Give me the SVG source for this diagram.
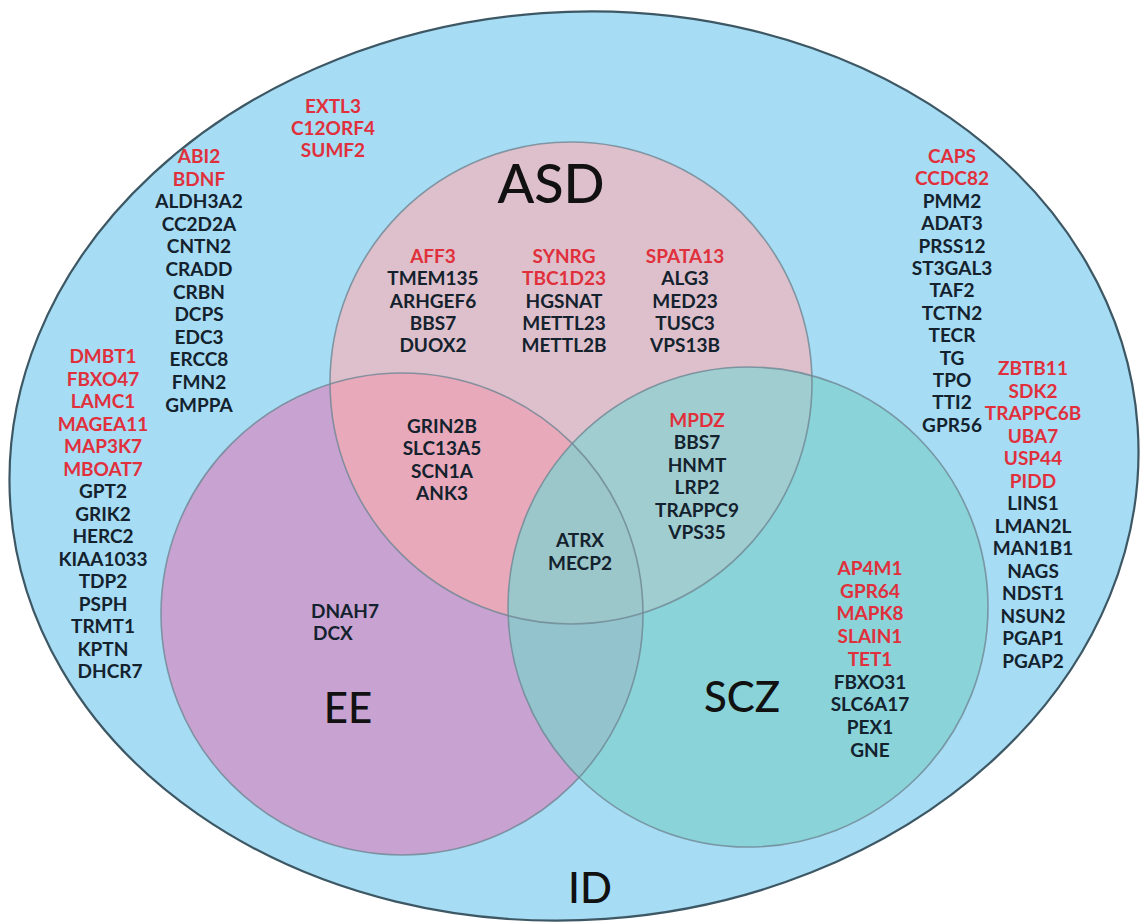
<svg xmlns="http://www.w3.org/2000/svg" width="1143" height="923" viewBox="0 0 1143 923">
<style>
.g{font-family:Lato,"Open Sans","Liberation Sans",sans-serif;font-weight:700;font-size:19px;text-anchor:middle;fill:#14222e}
.r{fill:#e0303c}
.t{font-family:Lato,"Open Sans","Liberation Sans",sans-serif;font-weight:500;text-anchor:middle;fill:#111}
.ring{fill:none;stroke:#6f8794;stroke-width:1.6;stroke-opacity:0.8}
</style>
<defs>
<clipPath id="cASD"><circle cx="571" cy="383" r="241"/></clipPath>
<clipPath id="cEE"><circle cx="402" cy="614" r="241"/></clipPath>
<clipPath id="cEEASD" clip-path="url(#cASD)"><circle cx="402" cy="614" r="241"/></clipPath>
</defs>
<rect width="1143" height="923" fill="#ffffff"/>
<g id="set-ID">
<ellipse cx="574" cy="466" rx="565" ry="454" transform="rotate(-4 574 466)" fill="#a6dcf4" stroke="#3d5864" stroke-width="2.2"/>
</g>
<g id="set-ASD">
<circle cx="571" cy="383" r="241" fill="#ddc0cb"/>
</g>
<g id="set-EE">
<circle cx="402" cy="614" r="241" fill="#c8a3d2"/>
</g>
<g id="set-SCZ">
<circle cx="748" cy="607" r="240" fill="#89d3d9"/>
</g>
<g id="overlaps">
<circle cx="402" cy="614" r="241" fill="#e8a9ba" clip-path="url(#cASD)"/>
<circle cx="748" cy="607" r="240" fill="#a0cdd0" clip-path="url(#cASD)"/>
<circle cx="748" cy="607" r="240" fill="#93c4cd" clip-path="url(#cEE)"/>
<circle cx="748" cy="607" r="240" fill="#9bc6ca" clip-path="url(#cEEASD)"/>
</g>
<g id="outlines">
<circle class="ring" cx="571" cy="383" r="241"/>
<circle class="ring" cx="402" cy="614" r="241"/>
<circle class="ring" cx="748" cy="607" r="240"/>
</g>
<g id="labels">
<text class="t" x="551" y="203" font-size="54">ASD</text>
<text class="t" x="348" y="723" font-size="42">EE</text>
<text class="t" x="742" y="712" font-size="42">SCZ</text>
<text class="t" x="590" y="903" font-size="42">ID</text>
</g>
<g id="genes-ID-top">
<text class="g r"><tspan x="333" y="113">EXTL3</tspan><tspan x="333" y="135">C12ORF4</tspan><tspan x="333" y="157">SUMF2</tspan></text>
</g>
<g id="genes-ID-left2">
<text class="g"><tspan class="r" x="199" y="163">ABI2</tspan><tspan class="r" x="199" dy="22.6">BDNF</tspan><tspan x="199" dy="22.6">ALDH3A2</tspan><tspan x="199" dy="22.6">CC2D2A</tspan><tspan x="199" dy="22.6">CNTN2</tspan><tspan x="199" dy="22.6">CRADD</tspan><tspan x="199" dy="22.6">CRBN</tspan><tspan x="199" dy="22.6">DCPS</tspan><tspan x="199" dy="22.6">EDC3</tspan><tspan x="199" dy="22.6">ERCC8</tspan><tspan x="199" dy="22.6">FMN2</tspan><tspan x="199" dy="22.6">GMPPA</tspan></text>
</g>
<g id="genes-ID-left1">
<text class="g"><tspan class="r" x="103" y="363">DMBT1</tspan><tspan class="r" x="103" dy="22.5">FBXO47</tspan><tspan class="r" x="103" dy="22.5">LAMC1</tspan><tspan class="r" x="103" dy="22.5">MAGEA11</tspan><tspan class="r" x="103" dy="22.5">MAP3K7</tspan><tspan class="r" x="103" dy="22.5">MBOAT7</tspan><tspan x="103" dy="22.5">GPT2</tspan><tspan x="103" dy="22.5">GRIK2</tspan><tspan x="103" dy="22.5">HERC2</tspan><tspan x="103" dy="22.5">KIAA1033</tspan><tspan x="103" dy="22.5">TDP2</tspan><tspan x="103" dy="22.5">PSPH</tspan><tspan x="103" dy="22.5">TRMT1</tspan><tspan x="103" dy="22.5">KPTN</tspan><tspan x="110" dy="22.5">DHCR7</tspan></text>
</g>
<g id="genes-ID-right1">
<text class="g"><tspan class="r" x="952" y="163">CAPS</tspan><tspan class="r" x="952" dy="22.4">CCDC82</tspan><tspan x="952" dy="22.4">PMM2</tspan><tspan x="952" dy="22.4">ADAT3</tspan><tspan x="952" dy="22.4">PRSS12</tspan><tspan x="952" dy="22.4">ST3GAL3</tspan><tspan x="952" dy="22.4">TAF2</tspan><tspan x="952" dy="22.4">TCTN2</tspan><tspan x="952" dy="22.4">TECR</tspan><tspan x="952" dy="22.4">TG</tspan><tspan x="952" dy="22.4">TPO</tspan><tspan x="952" dy="22.4">TTI2</tspan><tspan x="952" dy="22.4">GPR56</tspan></text>
</g>
<g id="genes-ID-right2">
<text class="g"><tspan class="r" x="1033" y="375">ZBTB11</tspan><tspan class="r" x="1033" dy="22.5">SDK2</tspan><tspan class="r" x="1033" dy="22.5">TRAPPC6B</tspan><tspan class="r" x="1033" dy="22.5">UBA7</tspan><tspan class="r" x="1033" dy="22.5">USP44</tspan><tspan class="r" x="1033" dy="22.5">PIDD</tspan><tspan x="1033" dy="22.5">LINS1</tspan><tspan x="1033" dy="22.5">LMAN2L</tspan><tspan x="1033" dy="22.5">MAN1B1</tspan><tspan x="1033" dy="22.5">NAGS</tspan><tspan x="1033" dy="22.5">NDST1</tspan><tspan x="1033" dy="22.5">NSUN2</tspan><tspan x="1033" dy="22.5">PGAP1</tspan><tspan x="1033" dy="22.5">PGAP2</tspan></text>
</g>
<g id="genes-ASD">
<text class="g"><tspan class="r" x="433" y="263">AFF3</tspan><tspan x="433" dy="22.3">TMEM135</tspan><tspan x="433" dy="22.3">ARHGEF6</tspan><tspan x="433" dy="22.3">BBS7</tspan><tspan x="433" dy="22.3">DUOX2</tspan></text>
<text class="g"><tspan class="r" x="564" y="263">SYNRG</tspan><tspan class="r" x="564" dy="22.3">TBC1D23</tspan><tspan x="564" dy="22.3">HGSNAT</tspan><tspan x="564" dy="22.3">METTL23</tspan><tspan x="564" dy="22.3">METTL2B</tspan></text>
<text class="g"><tspan class="r" x="685" y="263">SPATA13</tspan><tspan x="685" dy="22.3">ALG3</tspan><tspan x="685" dy="22.3">MED23</tspan><tspan x="685" dy="22.3">TUSC3</tspan><tspan x="685" dy="22.3">VPS13B</tspan></text>
</g>
<g id="genes-ASD-EE">
<text class="g"><tspan x="442" y="433">GRIN2B</tspan><tspan x="442" dy="22.4">SLC13A5</tspan><tspan x="442" dy="22.4">SCN1A</tspan><tspan x="442" dy="22.4">ANK3</tspan></text>
</g>
<g id="genes-ASD-EE-SCZ">
<text class="g"><tspan x="580" y="547">ATRX</tspan><tspan x="580" dy="22.6">MECP2</tspan></text>
</g>
<g id="genes-ASD-SCZ">
<text class="g"><tspan class="r" x="697" y="427">MPDZ</tspan><tspan x="697" dy="22.4">BBS7</tspan><tspan x="697" dy="22.4">HNMT</tspan><tspan x="697" dy="22.4">LRP2</tspan><tspan x="697" dy="22.4">TRAPPC9</tspan><tspan x="697" dy="22.4">VPS35</tspan></text>
</g>
<g id="genes-EE">
<text class="g" style="text-anchor:start"><tspan x="311" y="618">DNAH7</tspan><tspan x="313" dy="22.4">DCX</tspan></text>
</g>
<g id="genes-SCZ">
<text class="g"><tspan class="r" x="870" y="575">AP4M1</tspan><tspan class="r" x="870" dy="22.7">GPR64</tspan><tspan class="r" x="870" dy="22.7">MAPK8</tspan><tspan class="r" x="870" dy="22.7">SLAIN1</tspan><tspan class="r" x="870" dy="22.7">TET1</tspan><tspan x="870" dy="22.7">FBXO31</tspan><tspan x="870" dy="22.7">SLC6A17</tspan><tspan x="870" dy="22.7">PEX1</tspan><tspan x="870" dy="22.7">GNE</tspan></text>
</g>
</svg>
